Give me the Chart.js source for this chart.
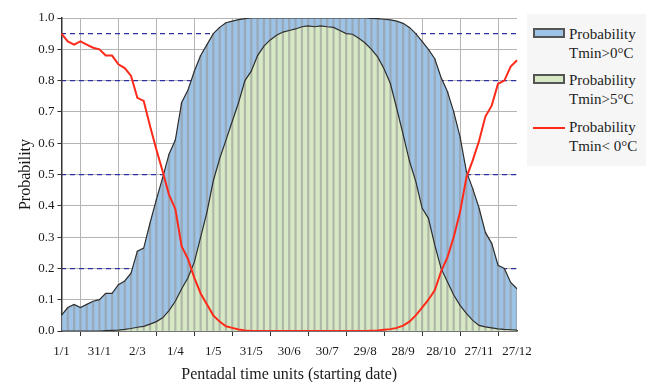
<!DOCTYPE html>
<html>
<head>
<meta charset="utf-8">
<script src="https://cdn.jsdelivr.net/npm/chart.js@4.4.0/dist/chart.umd.min.js"></script>
<style>
  html, body { margin: 0; padding: 0; background: #fff; }
  #wrap { position: relative; width: 648px; height: 382px; }
  #legend {
    position: absolute; left: 527px; top: 14px; width: 119px; height: 152px;
    background: #f6f6f6; font-family: "Liberation Serif", serif; font-size: 15px; color: #222;
  }
  .item { position: absolute; left: 6px; }
  .item .key { position: absolute; left: 0; width: 28px; height: 6px; border: 2px solid #555; }
  .item .line { position: absolute; left: 0; width: 32px; height: 2px; background: #ff2a1a; }
  .item .txt { position: absolute; left: 36px; top: -3px; line-height: 19px; white-space: nowrap; }
</style>
</head>
<body>
<div id="wrap">
  <canvas id="chart" width="648" height="382"></canvas>
  <div id="legend">
    <div class="item" style="top:14px"><span class="key" style="top:0;background:#9dc3e6"></span><span class="txt">Probability<br>Tmin&gt;0°C</span></div>
    <div class="item" style="top:60px"><span class="key" style="top:0;background:#d6e9c4"></span><span class="txt">Probability<br>Tmin&gt;5°C</span></div>
    <div class="item" style="top:107px"><span class="line" style="top:6px"></span><span class="txt">Probability<br>Tmin&lt; 0°C</span></div>
  </div>
</div>
<script>
// pentads 1..73 across the year, labelled every 6th pentad
const pentads = Array.from({ length: 73 }, (_, i) => i + 1);
const tickLabels = ['1/1', '31/1', '2/3', '1/4', '1/5', '31/5', '30/6', '30/7', '29/8', '28/9', '28/10', '27/11', '27/12'];
const dashLevels = [0.05, 0.2, 0.5, 0.8, 0.95];

const probAbove0 = [
  0.05, 0.075, 0.085, 0.075, 0.085, 0.095, 0.10, 0.12, 0.12, 0.148, 0.16, 0.185,
  0.255, 0.265, 0.345, 0.42, 0.49, 0.565, 0.61, 0.73, 0.77, 0.83, 0.88, 0.915,
  0.95, 0.97, 0.985, 0.99, 0.995, 0.998, 1, 1, 1, 1, 1, 1,
  1, 1, 1, 1, 1, 1, 1, 1, 1, 1, 1, 1,
  1, 0.999, 0.998, 0.996, 0.994, 0.99, 0.983, 0.97, 0.95, 0.925, 0.90, 0.87,
  0.81, 0.765, 0.70, 0.62, 0.51, 0.455, 0.393, 0.315, 0.28, 0.21, 0.20, 0.155,
  0.135
];
const probAbove5 = [
  0, 0, 0, 0, 0, 0, 0, 0.001, 0.002, 0.003, 0.005, 0.008,
  0.012, 0.015, 0.022, 0.03, 0.042, 0.065, 0.095, 0.135, 0.17, 0.22, 0.30, 0.38,
  0.48, 0.55, 0.61, 0.67, 0.73, 0.80, 0.83, 0.88, 0.91, 0.93, 0.945, 0.955,
  0.96, 0.965, 0.972, 0.975, 0.972, 0.975, 0.972, 0.97, 0.96, 0.95, 0.948, 0.935,
  0.92, 0.90, 0.875, 0.837, 0.79, 0.71, 0.628, 0.543, 0.478, 0.393, 0.36, 0.275,
  0.20, 0.157, 0.115, 0.082, 0.056, 0.034, 0.018, 0.013, 0.01, 0.007, 0.005, 0.004,
  0.003
];
const probBelow0 = [
  0.95, 0.925, 0.915, 0.925, 0.915, 0.905, 0.90, 0.88, 0.88, 0.852, 0.84, 0.815,
  0.745, 0.735, 0.655, 0.58, 0.51, 0.435, 0.39, 0.27, 0.23, 0.17, 0.12, 0.085,
  0.05, 0.03, 0.015, 0.01, 0.005, 0.002, 0, 0, 0, 0, 0, 0,
  0, 0, 0, 0, 0, 0, 0, 0, 0, 0, 0, 0,
  0, 0.001, 0.002, 0.004, 0.006, 0.01, 0.017, 0.03, 0.05, 0.075, 0.10, 0.13,
  0.19, 0.235, 0.30, 0.38, 0.49, 0.545, 0.607, 0.685, 0.72, 0.79, 0.80, 0.845,
  0.865
];

const serif = '"Liberation Serif", "Times New Roman", serif';
const isTenth = (v) => Math.abs(Math.round(v * 10) - v * 10) < 1e-6;

const ctx = document.getElementById('chart').getContext('2d');
new Chart(ctx, {
  data: {
    labels: pentads,
    datasets: [
      {
        type: 'line', label: 'Probability Tmin< 0°C', data: probBelow0, order: 0,
        borderColor: '#ff2a1a', borderWidth: 2, pointRadius: 0, tension: 0, fill: false
      },
      {
        type: 'line', label: 'Probability Tmin>5°C', data: probAbove5, order: 1,
        borderColor: '#2e2e2e', borderWidth: 1.2, backgroundColor: '#d6e9c4',
        pointRadius: 0, tension: 0, fill: 'origin'
      },
      {
        type: 'line', label: 'Probability Tmin>0°C', data: probAbove0, order: 2,
        borderColor: '#2e2e2e', borderWidth: 1.2, backgroundColor: '#9dc3e6',
        pointRadius: 0, tension: 0, fill: 'origin'
      },
      {
        // thin grey drop lines under the curves, one per pentad
        type: 'bar', label: 'stripes', data: probAbove0, order: 3,
        backgroundColor: 'rgba(150,150,150,0.6)', barThickness: 1.5, borderWidth: 0
      }
    ]
  },
  options: {
    responsive: false,
    animation: false,
    layout: { padding: { top: 18, right: 131, bottom: 0, left: 16 } },
    plugins: {
      legend: { display: false },
      tooltip: { enabled: false },
      filler: { drawTime: 'beforeDatasetsDraw' }
    },
    scales: {
      x: {
        type: 'category',
        offset: false,
        grid: { color: '#b4b4b4', lineWidth: 1, tickColor: '#333', tickLength: 5 },
        border: { color: '#333', width: 1.5 },
        ticks: {
          autoSkip: false, maxRotation: 0, padding: 8,
          color: '#1a1a1a', font: { family: serif, size: 13 },
          callback: (v, i) => (i % 6 === 0 ? tickLabels[i / 6] : null)
        },
        title: {
          display: true, text: 'Pentadal time units (starting date)',
          color: '#1a1a1a', font: { family: serif, size: 16, lineHeight: 0.9 }, padding: { top: 0, bottom: 0 }
        }
      },
      y: {
        min: 0, max: 1,
        grid: {
          color: (c) => (isTenth(c.tick.value) ? '#b4b4b4' : 'rgba(0,0,0,0)'),
          tickColor: '#333', tickLength: 4
        },
        border: { color: '#333', width: 1.5 },
        ticks: {
          stepSize: 0.05, padding: 3, color: '#1a1a1a', font: { family: serif, size: 13 },
          callback: (v) => (isTenth(v) ? v.toFixed(1) : '')
        },
        title: {
          display: true, text: 'Probability',
          color: '#1a1a1a', font: { family: serif, size: 16 }, padding: { top: 0, bottom: 0 }
        }
      },
      yDash: {
        // dashed reference levels drawn over the filled areas
        position: 'left', min: 0, max: 1, z: 1,
        afterBuildTicks: (s) => { s.ticks = dashLevels.map((v) => ({ value: v })); },
        afterFit: (s) => { s.width = 0; },
        grid: { color: '#3030a0', lineWidth: 1.2, drawTicks: false, drawOnChartArea: true },
        border: { display: false, dash: [5, 4] },
        ticks: { display: false }
      }
    }
  }
});
</script>
</body>
</html>
